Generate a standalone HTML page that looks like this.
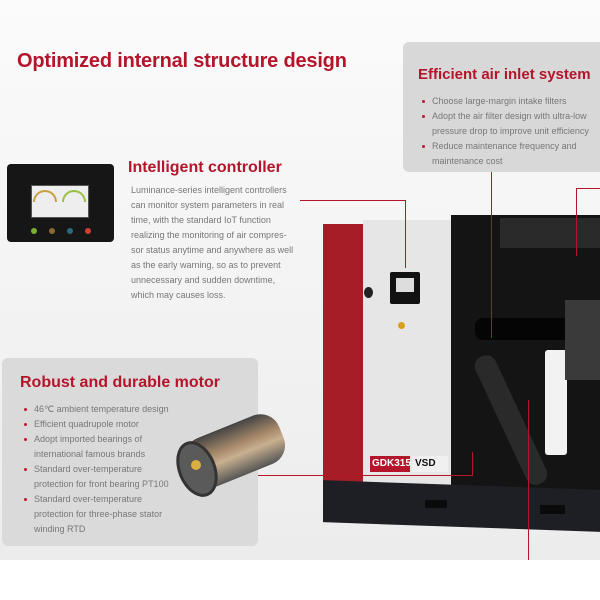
<!DOCTYPE html>
<html><head><meta charset="utf-8"><style>
*{margin:0;padding:0;box-sizing:border-box}
body{width:600px;height:600px;overflow:hidden;position:relative;background:#fff;font-family:"Liberation Sans",sans-serif}
.a{position:absolute}
.bg{left:0;top:0;width:600px;height:560px;background:linear-gradient(180deg,#fbfbfb 0%,#f2f2f2 60%,#ececec 100%)}
.red{color:#b5152b;font-weight:bold}
.txt{color:#777;font-size:9px;line-height:15px;white-space:nowrap}
ul{list-style:none}
li{position:relative;padding-left:12px}
li:before{content:"";position:absolute;left:2px;top:6px;width:3px;height:3px;border-radius:50%;background:#c0162c}
.ln{background:#b5152b}
</style></head><body>
<div class="a bg"></div>
<div class="a red" style="left:17px;top:50px;font-size:20px;letter-spacing:-0.2px">Optimized internal structure design</div>

<div class="a" style="left:403px;top:42px;width:205px;height:130px;background:#d8d8d8;border-radius:6px"></div>
<div class="a red" style="left:418px;top:66px;font-size:15px">Efficient air inlet system</div>
<ul class="a txt" style="left:420px;top:94px;width:180px">
<li>Choose large-margin intake filters</li>
<li>Adopt the air filter design with ultra-low<br>pressure drop to improve unit efficiency</li>
<li>Reduce maintenance frequency and<br>maintenance cost</li>
</ul>

<div class="a" style="left:7px;top:164px;width:107px;height:78px;background:#161616;border-radius:4px"></div>
<div class="a" style="left:31px;top:185px;width:58px;height:33px;background:#eee;border:1px solid #555"></div>
<div class="a" style="left:33px;top:190px;width:24px;height:12px;border-radius:12px 12px 0 0;border:2px solid #c9a040;border-bottom:none"></div>
<div class="a" style="left:62px;top:190px;width:24px;height:12px;border-radius:12px 12px 0 0;border:2px solid #9ac040;border-bottom:none"></div>
<div class="a" style="left:31px;top:228px;width:6px;height:6px;border-radius:50%;background:#7ab030"></div>
<div class="a" style="left:49px;top:228px;width:6px;height:6px;border-radius:50%;background:#8a6a30"></div>
<div class="a" style="left:67px;top:228px;width:6px;height:6px;border-radius:50%;background:#2a6a80"></div>
<div class="a" style="left:85px;top:228px;width:6px;height:6px;border-radius:50%;background:#d04030"></div>
<div class="a red" style="left:128px;top:159px;font-size:16px">Intelligent controller</div>
<div class="a txt" style="left:131px;top:183px;font-size:9px">Luminance-series intelligent controllers<br>can monitor system parameters in real<br>time, with the standard IoT function<br>realizing the monitoring of air compres-<br>sor status anytime and anywhere as well<br>as the early warning, so as to prevent<br>unnecessary and sudden downtime,<br>which may causes loss.</div>

<div class="a" style="left:323px;top:224px;width:40px;height:262px;background:#a51d26"></div>
<div class="a" style="left:363px;top:220px;width:88px;height:268px;background:#e6e6e6"></div>
<div class="a" style="left:451px;top:215px;width:149px;height:280px;background:#141414"></div>
<div class="a" style="left:500px;top:218px;width:100px;height:30px;background:#2a2a2a"></div>
<div class="a" style="left:390px;top:272px;width:30px;height:32px;background:#111;border-radius:2px"></div>
<div class="a" style="left:396px;top:278px;width:18px;height:14px;background:#ddd"></div>
<div class="a" style="left:364px;top:287px;width:9px;height:11px;border-radius:50%;background:#222"></div>
<div class="a" style="left:398px;top:322px;width:7px;height:7px;border-radius:50%;background:#d9a020"></div>
<div class="a" style="left:475px;top:318px;width:125px;height:22px;background:#050505;border-radius:8px"></div>
<div class="a" style="left:545px;top:350px;width:22px;height:105px;background:#f2f2f2;border-radius:3px"></div>
<div class="a" style="left:500px;top:350px;width:22px;height:140px;background:#2a2a2a;border-radius:10px;transform:rotate(-25deg)"></div>
<div class="a" style="left:565px;top:300px;width:35px;height:80px;background:#3a3a3a"></div>
<div class="a" style="left:370px;top:456px;width:40px;height:16px;background:#b5152b;color:#fff;font-size:10px;font-weight:bold;line-height:16px;padding-left:2px">GDK315</div>
<div class="a" style="left:412px;top:456px;width:36px;height:16px;background:#f0f0f0;color:#111;font-size:10px;font-weight:bold;line-height:16px;padding-left:3px">VSD</div>
<div class="a" style="left:323px;top:485px;width:277px;height:42px;background:#1e1f24;transform:skewY(2deg)"></div>
<div class="a" style="left:425px;top:500px;width:22px;height:8px;background:#0a0a0a"></div>
<div class="a" style="left:540px;top:505px;width:25px;height:9px;background:#0a0a0a"></div>

<div class="a" style="left:2px;top:358px;width:256px;height:188px;background:#dadada;border-radius:6px"></div>
<div class="a red" style="left:20px;top:374px;font-size:16px">Robust and durable motor</div>
<ul class="a txt" style="left:22px;top:402px;width:160px">
<li>46℃ ambient temperature design</li>
<li>Efficient quadrupole motor</li>
<li>Adopt imported bearings of<br>international famous brands</li>
<li>Standard over-temperature<br>protection for front bearing PT100</li>
<li>Standard over-temperature<br>protection for three-phase stator<br>winding RTD</li>
</ul>
<div class="a" style="left:185px;top:425px;width:100px;height:52px;background:linear-gradient(180deg,#444,#a88a6a 40%,#c8b090 60%,#555);border-radius:20px;transform:rotate(-22deg)"></div>
<div class="a" style="left:178px;top:440px;width:38px;height:58px;border-radius:50%;background:#5a5a5a;border:3px solid #333;transform:rotate(-22deg)"></div>
<div class="a" style="left:191px;top:460px;width:10px;height:10px;border-radius:50%;background:#d9b040"></div>

<div class="a ln" style="left:300px;top:200px;width:106px;height:1px"></div>
<div class="a ln" style="left:405px;top:200px;width:1px;height:68px"></div>
<div class="a ln" style="left:491px;top:172px;width:1px;height:166px"></div>
<div class="a ln" style="left:576px;top:188px;width:24px;height:1px"></div>
<div class="a ln" style="left:576px;top:188px;width:1px;height:68px"></div>
<div class="a ln" style="left:258px;top:475px;width:215px;height:1px"></div>
<div class="a ln" style="left:472px;top:452px;width:1px;height:24px"></div>
<div class="a ln" style="left:528px;top:400px;width:1px;height:160px"></div>
</body></html>
